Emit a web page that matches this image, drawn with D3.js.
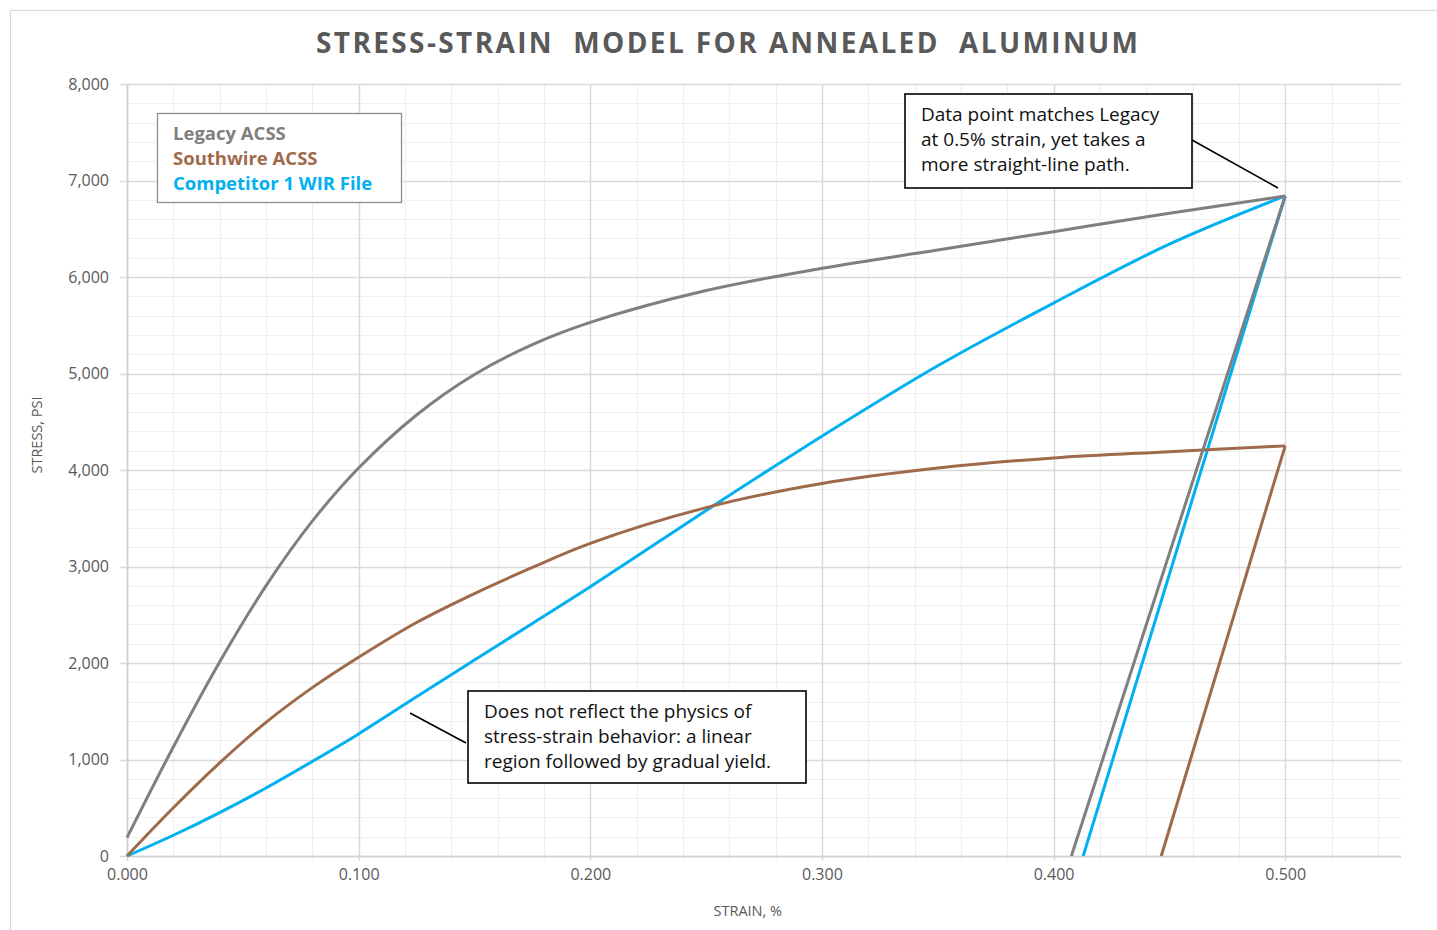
<!DOCTYPE html>
<html>
<head>
<meta charset="utf-8">
<script src="https://cdn.jsdelivr.net/npm/d3@7"></script>
<style>
  html, body { margin: 0; padding: 0; background: #fff; }
  svg { display: block; }
  text { white-space: pre; }
</style>
</head>
<body>
<svg id="chart" width="1437" height="930"></svg>
<script>
// ---------- data ----------
const strain          = [0, 0.02, 0.04, 0.06, 0.08, 0.10, 0.125, 0.15, 0.175, 0.20, 0.25, 0.30, 0.35, 0.40, 0.45, 0.50];
const legacyStress    = [190, 1130, 2010, 2800, 3470, 4020, 4570, 4990, 5300, 5530, 5860, 6090, 6280, 6470, 6660, 6840];
const southwireStress = [0, 500, 965, 1385, 1745, 2060, 2420, 2720, 2990, 3240, 3610, 3860, 4020, 4125, 4190, 4250];
const competitorStress = [0, 215, 450, 705, 980, 1265, 1650, 2030, 2410, 2790, 3580, 4350, 5080, 5730, 6340, 6840];

// unloading (final modulus) lines: [strain at peak, strain at zero stress]
const legacyUnloadStrain = [0.50, 0.4077];
const legacyUnloadStress = [6840, 0];
const southwireUnloadStrain = [0.50, 0.4465];
const southwireUnloadStress = [4250, 0];
const competitorUnloadStrain = [0.50, 0.4128];
const competitorUnloadStress = [6840, 0];

const seriesNames = ["Legacy ACSS", "Southwire ACSS", "Competitor 1 WIR File"];
const seriesColors = ["#7f7f7f", "#9e6a4a", "#00b0f0"];

const xTicks = [0, 0.1, 0.2, 0.3, 0.4, 0.5];
const yTicks = [0, 1000, 2000, 3000, 4000, 5000, 6000, 7000, 8000];

const titleText = "STRESS-STRAIN  MODEL FOR ANNEALED  ALUMINUM";
const xLabel = "STRAIN, %";
const yLabel = "STRESS, PSI";
const note1 = ["Data point matches Legacy", "at 0.5% strain, yet takes a", "more straight-line path."];
const note2 = ["Does not reflect the physics of", "stress-strain behavior: a linear", "region followed by gradual yield."];

// ---------- layout ----------
const svg = d3.select("#chart");
const x = d3.scaleLinear().domain([0, 0.55]).range([127, 1401]);
const y = d3.scaleLinear().domain([0, 8000]).range([856, 84]);
const textColor = "#595959";
const tickFont = "'Open Sans', 'Noto Sans', sans-serif";

// outer frame
svg.append("rect").attr("x", 10.5).attr("y", 10.5).attr("width", 1440).attr("height", 940)
  .attr("fill", "none").attr("stroke", "#d9d9d9").attr("stroke-width", 1.2);

// minor grid
const g = svg.append("g");
const minorX = d3.range(0, 0.5501, 0.02);
const minorY = d3.range(0, 8001, 200);
g.selectAll(".mx").data(minorX).join("line")
  .attr("x1", d => Math.round(x(d)) + 0.5).attr("x2", d => Math.round(x(d)) + 0.5)
  .attr("y1", y(8000)).attr("y2", y(0) + 4)
  .attr("stroke", "#efefef").attr("stroke-width", 1.2);
g.selectAll(".my").data(minorY).join("line")
  .attr("y1", d => Math.round(y(d)) + 0.5).attr("y2", d => Math.round(y(d)) + 0.5)
  .attr("x1", x(0)).attr("x2", x(0.55))
  .attr("stroke", "#efefef").attr("stroke-width", 1.2);

// major grid
g.selectAll(".Mx").data(xTicks).join("line")
  .attr("x1", d => Math.round(x(d)) + 0.5).attr("x2", d => Math.round(x(d)) + 0.5)
  .attr("y1", y(8000)).attr("y2", y(0) + 5)
  .attr("stroke", "#d9d9d9").attr("stroke-width", 1.4);
g.selectAll(".My").data(yTicks).join("line")
  .attr("y1", d => Math.round(y(d)) + 0.5).attr("y2", d => Math.round(y(d)) + 0.5)
  .attr("x1", x(0) - 7).attr("x2", x(0.55))
  .attr("stroke", "#d9d9d9").attr("stroke-width", 1.4);
// axis lines
g.append("line").attr("x1", x(0)).attr("x2", x(0.55)).attr("y1", y(0) + 0.5).attr("y2", y(0) + 0.5)
  .attr("stroke", "#d0d0d0").attr("stroke-width", 1.6);
g.append("line").attr("x1", x(0) + 0.5).attr("x2", x(0) + 0.5).attr("y1", y(0)).attr("y2", y(8000))
  .attr("stroke", "#d0d0d0").attr("stroke-width", 1.6);

// axes labels via d3 axes
const yAxis = d3.axisLeft(y).tickValues(yTicks).tickFormat(d3.format(",")).tickSize(0).tickPadding(18);
svg.append("g").attr("transform", `translate(${x(0)},0)`).call(yAxis)
  .call(a => a.select(".domain").remove())
  .selectAll("text").attr("font-family", tickFont).attr("font-size", 16).attr("fill", textColor);

const xAxis = d3.axisBottom(x).tickValues(xTicks).tickFormat(d3.format(".3f")).tickSize(0).tickPadding(13);
svg.append("g").attr("transform", `translate(0,${y(0)})`).call(xAxis)
  .call(a => a.select(".domain").remove())
  .selectAll("text").attr("font-family", tickFont).attr("font-size", 16).attr("fill", textColor);

// axis titles
svg.append("text").attr("x", x(0.268)).attr("y", 916).attr("text-anchor", "middle")
  .attr("font-family", tickFont).attr("font-size", 14.5).attr("fill", textColor).text(xLabel);
svg.append("text").attr("transform", `translate(42,${y(4000) - 35}) rotate(-90)`).attr("text-anchor", "middle")
  .attr("font-family", tickFont).attr("font-size", 14.5).attr("fill", textColor).text(yLabel);

// title
svg.append("text").attr("x", 727).attr("y", 53).attr("text-anchor", "middle")
  .attr("font-family", tickFont).attr("font-weight", 700).attr("font-size", 28)
  .attr("fill", textColor).attr("textLength", 822).attr("lengthAdjust", "spacing").text(titleText);

// ---------- series ----------
const curve = d3.line().x(d => x(d[0])).y(d => y(d[1])).curve(d3.curveCatmullRom.alpha(0.5));
const straight = d3.line().x(d => x(d[0])).y(d => y(d[1]));
const loads = [legacyStress, southwireStress, competitorStress];
const unloads = [
  [legacyUnloadStrain, legacyUnloadStress],
  [southwireUnloadStrain, southwireUnloadStress],
  [competitorUnloadStrain, competitorUnloadStress]
];
const lines = svg.append("g");
[2, 1, 0].forEach(i => {
  const pts = strain.map((s, k) => [s, loads[i][k]]);
  lines.append("path").attr("d", curve(pts)).attr("fill", "none")
    .attr("stroke", seriesColors[i]).attr("stroke-width", 3).attr("stroke-linejoin", "round");
  const u = unloads[i][0].map((s, k) => [s, unloads[i][1][k]]);
  lines.append("path").attr("d", straight(u)).attr("fill", "none")
    .attr("stroke", seriesColors[i]).attr("stroke-width", 3).attr("stroke-linejoin", "round");
});

// ---------- legend ----------
const legendFont = "'Open Sans', 'Noto Sans', sans-serif";
svg.append("rect").attr("x", 157.5).attr("y", 113.5).attr("width", 244).attr("height", 89)
  .attr("fill", "#fff").attr("stroke", "#8c8c8c").attr("stroke-width", 1.3);
seriesNames.forEach((n, i) => {
  svg.append("text").attr("x", 173).attr("y", 140 + i * 25).attr("font-family", legendFont)
    .attr("font-weight", 700).attr("font-size", 18.5).attr("fill", seriesColors[i]).text(n);
});

// ---------- annotations ----------
const noteFont = "'Open Sans', 'Noto Sans', sans-serif";
function note(bx, by, bw, bh, lines_, tx, ty, lx1, ly1, lx2, ly2) {
  svg.append("line").attr("x1", lx1).attr("y1", ly1).attr("x2", lx2).attr("y2", ly2)
    .attr("stroke", "#000").attr("stroke-width", 1.6);
  svg.append("rect").attr("x", bx).attr("y", by).attr("width", bw).attr("height", bh)
    .attr("fill", "#fff").attr("stroke", "#000").attr("stroke-width", 1.6);
  lines_.forEach((t, i) => {
    svg.append("text").attr("x", tx).attr("y", ty + i * 25).attr("font-family", noteFont)
      .attr("font-size", 19).attr("fill", "#111").text(t);
  });
}
note(905, 94, 287, 94, note1, 921, 121, 1192, 140, 1278, 188);
note(468, 691, 338, 92, note2, 484, 718, 410, 713, 466, 743);
</script>
</body>
</html>
